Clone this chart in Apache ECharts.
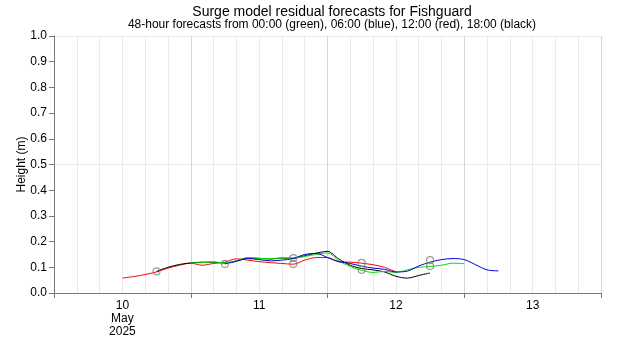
<!DOCTYPE html>
<html>
<head>
<meta charset="utf-8">
<title>Surge model residual forecasts for Fishguard</title>
<script src="https://cdn.jsdelivr.net/npm/echarts@6/dist/echarts.min.js"></script>
<style>
  html, body { margin: 0; padding: 0; background: #fff; }
  #chart { width: 620px; height: 350px; }
</style>
</head>
<body>
<div id="chart"></div>
<script>
// hours counted from 10 May 2025 00:00, one value every 2 hours
const stepHours = 2

const redStart = 12 // 12:00 forecast
const redValues = [0.058, 0.064, 0.072, 0.082, 0.097, 0.108, 0.116, 0.108, 0.115, 0.120,
  0.133, 0.128, 0.122, 0.118, 0.115, 0.112, 0.128, 0.138, 0.138, 0.121,
  0.120, 0.116, 0.110, 0.100, 0.082]

const blackStart = 18 // 18:00 forecast
const blackValues = [0.084, 0.100, 0.111, 0.117, 0.120, 0.120, 0.116, 0.125, 0.136, 0.135,
  0.132, 0.136, 0.135, 0.145, 0.155, 0.162, 0.132, 0.108, 0.095, 0.090,
  0.082, 0.065, 0.058, 0.068, 0.078]

const greenStart = 24 // 00:00 forecast
const greenValues = [0.117, 0.118, 0.121, 0.117, 0.125, 0.138, 0.134, 0.134, 0.136, 0.136,
  0.142, 0.150, 0.156, 0.125, 0.103, 0.088, 0.080, 0.084, 0.080, 0.090,
  0.100, 0.103, 0.108, 0.116, 0.114]

const blueStart = 30 // 06:00 forecast
const blueValues = [0.113, 0.123, 0.134, 0.130, 0.125, 0.128, 0.134, 0.150, 0.154, 0.138,
  0.122, 0.115, 0.104, 0.097, 0.092, 0.082, 0.085, 0.105, 0.120, 0.130,
  0.134, 0.130, 0.110, 0.090, 0.086]

// grey rings
const ringHours = [18, 30, 42, 42, 54, 54, 66, 66]
const ringValues = [0.084, 0.113, 0.136, 0.113, 0.117, 0.090, 0.128, 0.105]

const dayLabels = { 12: '10\nMay\n2025', 36: '11', 60: '12', 84: '13' }

function pairs (start, values) {
  return values.map((v, i) => [start + i * stepHours, v])
}

const font = 'Liberation Sans, Arial, sans-serif'

function lineSeries (name, color, start, values) {
  return {
    name: name,
    type: 'line',
    data: pairs(start, values),
    smooth: 0.3,
    showSymbol: false,
    symbol: 'none',
    lineStyle: { color: color, width: 1 },
    itemStyle: { color: color },
    animation: false
  }
}

const chart = echarts.init(document.getElementById('chart'))

const option = {
  backgroundColor: '#fff',
  animation: false,
  title: {
    text: 'Surge model residual forecasts for Fishguard',
    subtext: '48-hour forecasts from 00:00 (green), 06:00 (blue), 12:00 (red), 18:00 (black)',
    left: 327,
    textAlign: 'center',
    top: 0,
    itemGap: 0,
    textStyle: { fontFamily: font, fontSize: 14, fontWeight: 'normal', color: '#000' },
    subtextStyle: { fontFamily: font, fontSize: 12, color: '#000' }
  },
  grid: {
    left: 54,
    right: 19,
    top: 36,
    bottom: 57,
    containLabel: false
  },
  xAxis: [
    {
      type: 'value',
      min: 0,
      max: 96,
      interval: 4,
      axisLine: { show: false },
      axisTick: { show: false },
      splitLine: { show: true, lineStyle: { color: '#ebebeb', width: 1 } },
      axisLabel: {
        fontFamily: font,
        fontSize: 12,
        color: '#000',
        lineHeight: 13,
        margin: 6,
        showMinLabel: true,
        showMaxLabel: true,
        formatter: function (v) {
          return dayLabels[v] || ''
        }
      }
    },
    {
      type: 'value',
      position: 'bottom',
      min: 0,
      max: 96,
      interval: 24,
      axisLine: { show: true, lineStyle: { color: '#777', width: 1 } },
      axisTick: { show: true, length: 5, lineStyle: { color: '#777' } },
      splitLine: { show: true, lineStyle: { color: '#d6d6d6', width: 1 } },
      axisLabel: { show: false }
    }
  ],
  yAxis: [
    {
      type: 'value',
      min: 0,
      max: 1,
      interval: 0.1,
      name: 'Height (m)',
      nameLocation: 'middle',
      nameGap: 26,
      nameMoveOverlap: false,
      nameTextStyle: { fontFamily: font, fontSize: 12, color: '#000' },
      axisLine: { show: true, lineStyle: { color: '#777', width: 1 } },
      axisTick: { show: true, length: 5, lineStyle: { color: '#777' } },
      splitLine: { show: false },
      axisLabel: {
        fontFamily: font,
        fontSize: 12,
        color: '#000',
        margin: 7,
        formatter: function (v) {
          return v.toFixed(1)
        }
      }
    },
    {
      type: 'value',
      position: 'left',
      min: 0,
      max: 1,
      interval: 0.5,
      axisLine: { show: false },
      axisTick: { show: false },
      axisLabel: { show: false },
      splitLine: { show: true, lineStyle: { color: '#ebebeb', width: 1 } }
    }
  ],
  series: [
    lineSeries('12:00', '#ff0000', redStart, redValues),
    lineSeries('18:00', '#000000', blackStart, blackValues),
    lineSeries('00:00', '#00e000', greenStart, greenValues),
    lineSeries('06:00', '#0000dd', blueStart, blueValues),
    {
      name: 'rings',
      type: 'scatter',
      data: ringHours.map((h, i) => [h, ringValues[i]]),
      symbol: 'circle',
      symbolSize: 7,
      itemStyle: { color: 'transparent', borderColor: '#808080', borderWidth: 1.2 },
      z: 5,
      animation: false
    }
  ]
}

chart.setOption(option)
</script>
</body>
</html>
